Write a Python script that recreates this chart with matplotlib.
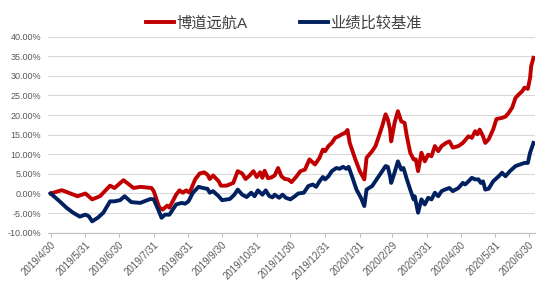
import matplotlib
matplotlib.use('Agg')
import matplotlib.pyplot as plt
import matplotlib.ticker as mticker
import pandas as pd

plt.rcParams['font.family'] = ['Liberation Sans', 'Noto Sans CJK SC', 'DejaVu Sans']

# 博道远航A 累计收益 (%)
fund_dates = ['2019-04-30', '2019-05-10', '2019-05-24', '2019-05-31', '2019-06-06', '2019-06-13',
              '2019-06-22', '2019-06-26', '2019-07-04', '2019-07-13', '2019-07-19', '2019-07-29',
              '2019-07-31', '2019-08-05', '2019-08-08', '2019-08-12', '2019-08-14', '2019-08-20',
              '2019-08-23', '2019-08-26', '2019-08-29', '2019-09-01', '2019-09-06', '2019-09-10',
              '2019-09-14', '2019-09-17', '2019-09-19', '2019-09-22', '2019-09-25', '2019-09-27',
              '2019-09-29', '2019-10-04', '2019-10-10', '2019-10-14', '2019-10-18', '2019-10-21',
              '2019-10-24', '2019-10-28', '2019-10-31', '2019-11-03', '2019-11-05', '2019-11-07',
              '2019-11-10', '2019-11-13', '2019-11-16', '2019-11-19', '2019-11-22', '2019-11-25',
              '2019-11-28', '2019-12-01', '2019-12-05', '2019-12-09', '2019-12-13', '2019-12-17',
              '2019-12-22', '2019-12-26', '2019-12-29', '2019-12-31', '2020-01-03', '2020-01-06',
              '2020-01-09', '2020-01-12', '2020-01-15', '2020-01-18', '2020-01-20', '2020-01-22',
              '2020-01-27', '2020-01-31', '2020-02-04', '2020-02-06', '2020-02-11', '2020-02-14',
              '2020-02-17', '2020-02-20', '2020-02-23', '2020-02-25', '2020-02-27', '2020-02-28',
              '2020-03-02', '2020-03-05', '2020-03-08', '2020-03-11', '2020-03-13', '2020-03-16',
              '2020-03-19', '2020-03-21', '2020-03-23', '2020-03-26', '2020-03-29', '2020-04-01',
              '2020-04-04', '2020-04-07', '2020-04-10', '2020-04-13', '2020-04-17', '2020-04-20',
              '2020-04-23', '2020-04-28', '2020-05-02', '2020-05-07', '2020-05-10', '2020-05-13',
              '2020-05-15', '2020-05-17', '2020-05-20', '2020-05-22', '2020-05-25', '2020-05-29',
              '2020-06-01', '2020-06-06', '2020-06-09', '2020-06-12', '2020-06-15', '2020-06-18',
              '2020-06-21', '2020-06-24', '2020-06-26', '2020-06-29', '2020-07-01', '2020-07-02',
              '2020-07-04']
fund_vals = [0.0, 0.85, -0.7, 0.0, -1.5, -0.7,
             2.0, 1.4, 3.4, 1.4, 1.7, 1.4,
             0.6, -3.6, -4.1, -3.1, -3.6, -0.3,
             0.8, 0.2, 0.8, 0.2, 3.6, 5.1,
             5.4, 4.8, 3.7, 4.6, 3.7, 3.1,
             2.0, 2.0, 2.7, 5.7, 5.1, 3.7,
             4.4, 5.7, 4.2, 5.4, 4.0, 5.8,
             3.9, 4.1, 4.6, 6.5, 4.4, 3.7,
             3.6, 2.9, 4.2, 5.7, 6.1, 8.7,
             7.4, 9.1, 11.2, 10.8, 12.1, 12.9,
             14.2, 14.6, 15.1, 15.5, 16.2, 12.9,
             8.7, 5.7, 3.6, 9.1, 10.8, 12.1,
             14.6, 17.2, 20.2, 18.9, 16.3, 13.3,
             18.0, 21.0, 18.4, 18.0, 14.6, 10.4,
             8.7, 8.7, 5.7, 10.4, 8.2, 9.9,
             9.5, 12.1, 10.8, 12.1, 12.9, 13.3,
             11.7, 12.1, 12.9, 14.6, 14.2, 15.9,
             15.1, 16.3, 14.6, 12.9, 13.8, 16.3,
             19.0, 19.3, 19.6, 20.6, 21.9, 24.4,
             25.3, 26.1, 27.0, 26.7, 29.5, 32.5,
             34.6]

# 业绩比较基准 累计收益 (%)
bench_dates = ['2019-04-30', '2019-05-08', '2019-05-14', '2019-05-20', '2019-05-26', '2019-05-31',
               '2019-06-03', '2019-06-06', '2019-06-11', '2019-06-16', '2019-06-22', '2019-06-26',
               '2019-07-01', '2019-07-05', '2019-07-11', '2019-07-19', '2019-07-28', '2019-07-31',
               '2019-08-04', '2019-08-07', '2019-08-10', '2019-08-14', '2019-08-20', '2019-08-25',
               '2019-08-28', '2019-08-31', '2019-09-04', '2019-09-09', '2019-09-13', '2019-09-17',
               '2019-09-19', '2019-09-22', '2019-09-27', '2019-09-30', '2019-10-07', '2019-10-11',
               '2019-10-14', '2019-10-18', '2019-10-22', '2019-10-26', '2019-10-29', '2019-11-01',
               '2019-11-05', '2019-11-08', '2019-11-11', '2019-11-14', '2019-11-16', '2019-11-20',
               '2019-11-23', '2019-11-26', '2019-11-30', '2019-12-04', '2019-12-07', '2019-12-12',
               '2019-12-16', '2019-12-20', '2019-12-23', '2019-12-26', '2019-12-29', '2019-12-31',
               '2020-01-03', '2020-01-06', '2020-01-10', '2020-01-13', '2020-01-16', '2020-01-19',
               '2020-01-21', '2020-01-24', '2020-01-28', '2020-02-01', '2020-02-04', '2020-02-06',
               '2020-02-11', '2020-02-15', '2020-02-20', '2020-02-23', '2020-02-25', '2020-02-27',
               '2020-02-28', '2020-03-02', '2020-03-05', '2020-03-08', '2020-03-10', '2020-03-13',
               '2020-03-16', '2020-03-19', '2020-03-20', '2020-03-23', '2020-03-26', '2020-03-29',
               '2020-04-01', '2020-04-04', '2020-04-07', '2020-04-10', '2020-04-13', '2020-04-16',
               '2020-04-20', '2020-04-23', '2020-04-28', '2020-05-02', '2020-05-04', '2020-05-07',
               '2020-05-10', '2020-05-13', '2020-05-16', '2020-05-18', '2020-05-20', '2020-05-22',
               '2020-05-25', '2020-05-29', '2020-06-03', '2020-06-06', '2020-06-09', '2020-06-13',
               '2020-06-18', '2020-06-22', '2020-06-26', '2020-06-29', '2020-07-01', '2020-07-04']
bench_vals = [0.0, -2.0, -3.6, -4.9, -5.9, -5.4,
              -5.8, -7.1, -6.2, -4.9, -2.0, -2.0,
              -1.7, -0.7, -2.2, -2.4, -1.4, -1.5,
              -4.1, -6.2, -5.4, -5.4, -2.8, -2.4,
              -2.6, -2.0, 0.2, 1.7, 1.4, 1.2,
              0.2, 0.6, -0.7, -1.7, -1.4, -0.3,
              1.0, -0.3, -0.9, 0.2, -0.7, 0.8,
              -0.3, 0.8, -0.6, -1.0, -0.3, -1.1,
              -0.3, -1.1, -1.5, -0.7, 0.0, 0.2,
              1.9, 2.3, 1.7, 3.1, 4.2, 3.6,
              4.4, 5.7, 6.5, 6.3, 6.8, 6.3,
              6.8, 4.4, 1.0, -1.1, -3.2, 1.0,
              1.9, 3.6, 5.7, 7.0, 6.8, 4.4,
              2.7, 5.3, 8.2, 6.1, 6.5, 3.6,
              1.0, -1.5, -0.7, -4.9, -1.5, -2.8,
              -1.1, -1.5, 0.2, -0.7, 0.6, 1.0,
              1.4, 0.6, 1.4, 2.7, 2.3, 3.1,
              4.0, 3.6, 3.6, 2.7, 3.1, 1.0,
              1.2, 3.1, 4.4, 5.3, 4.4, 5.7,
              7.0, 7.4, 7.8, 7.8, 10.4, 12.9]

tick_labels = ['2019/4/30', '2019/5/31', '2019/6/30', '2019/7/31', '2019/8/31', '2019/9/30',
               '2019/10/31', '2019/11/30', '2019/12/31', '2020/1/31', '2020/2/29', '2020/3/31',
               '2020/4/30', '2020/5/31', '2020/6/30']

fund_x = pd.to_datetime(fund_dates)
bench_x = pd.to_datetime(bench_dates)
tick_x = pd.to_datetime(tick_labels, format='%Y/%m/%d')

fig = plt.figure(figsize=(5.48, 2.91), dpi=100)
ax = fig.add_axes([48 / 548, 1 - 232.7 / 291, 487 / 548, 196 / 291])

ax.plot(fund_x, fund_vals, color='#C00000', lw=2.8, solid_joinstyle='round', label='博道远航A', zorder=3)
ax.plot(bench_x, bench_vals, color='#002060', lw=2.8, solid_joinstyle='round', label='业绩比较基准', zorder=3)

ax.set_ylim(-10, 40)
ax.set_yticks(range(-10, 41, 5))
ax.yaxis.set_major_formatter(mticker.FuncFormatter(lambda v, p: f'{v:.2f}%'))
ax.grid(axis='y', color='#D9D9D9', lw=0.8)
ax.set_axisbelow(True)

start = pd.Timestamp('2019-04-30')
ax.set_xlim(start - pd.Timedelta(days=2.4), start + pd.Timedelta(days=432.4))
ax.set_xticks(tick_x)
ax.set_xticklabels(tick_labels, rotation=45, ha='right', va='top', rotation_mode='anchor')

for s in ['top', 'right', 'left']:
    ax.spines[s].set_visible(False)
ax.spines['bottom'].set_color('#BFBFBF')
ax.spines['bottom'].set_linewidth(0.8)
ax.tick_params(axis='y', length=0, pad=5, labelsize=6.5, labelcolor='#595959')
ax.tick_params(axis='x', length=3, width=0.8, color='#BFBFBF', pad=2, labelsize=7, labelcolor='#595959')

fig.legend(loc='center', bbox_to_anchor=(284 / 548, 1 - 23 / 291), ncol=2, frameon=False,
           fontsize=11, handlelength=1.85, handletextpad=0.15, columnspacing=3.4,
           borderpad=0, labelcolor='#404040')

fig.savefig('out.png', dpi=100)
